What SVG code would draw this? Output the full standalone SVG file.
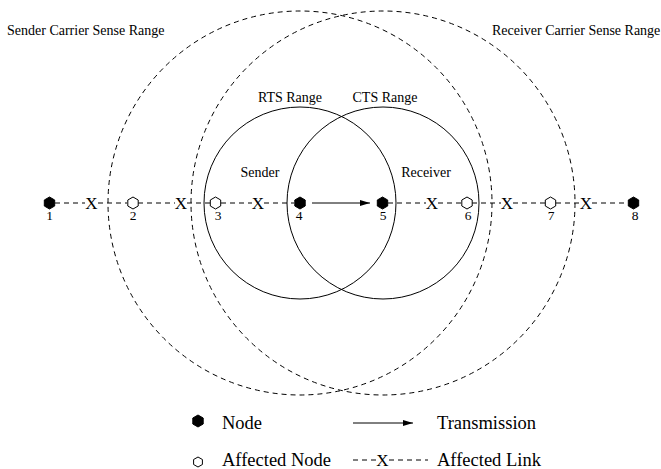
<svg xmlns="http://www.w3.org/2000/svg" width="661" height="469" viewBox="0 0 661 469">
<style>
  .t { font-family: "Liberation Serif", "Times New Roman", serif; fill: #000; }
  .lbl { font-size: 14px; }
  .num { font-size: 13.5px; text-anchor: middle; }
  .x { font-size: 17px; text-anchor: middle; }
  .leg { font-size: 18.5px; }
  .range { fill: none; stroke: #000; stroke-width: 1; }
  .cs { fill: none; stroke: #000; stroke-width: 1; stroke-dasharray: 5 4; }
  .link { fill: none; stroke: #000; stroke-width: 1; stroke-dasharray: 5 4; }
  .solid { fill: none; stroke: #000; stroke-width: 1; }
  .node { fill: #000; stroke: #000; stroke-width: 1; }
  .anode { fill: #fff; stroke: #000; stroke-width: 1; }
</style>
<defs>
  <polygon id="hex" points="0,-6 5.2,-3 5.2,3 0,6 -5.2,3 -5.2,-3"/>
  <polygon id="hexs" points="0,-5 4.4,-2.5 4.4,2.5 0,5 -4.4,2.5 -4.4,-2.5"/>
  <marker id="arr" viewBox="0 0 10 6" refX="10" refY="3" markerWidth="10" markerHeight="6" markerUnits="userSpaceOnUse" orient="auto">
    <polygon points="0,0 10,3 0,6" fill="#000"/>
  </marker>
</defs>
<rect width="661" height="469" fill="#fff"/>

<g id="ranges">
  <circle id="sender-cs" class="cs" cx="300" cy="203" r="192"/>
  <circle id="receiver-cs" class="cs" cx="383" cy="203" r="192"/>
  <circle id="rts" class="range" cx="300" cy="203" r="96"/>
  <circle id="cts" class="range" cx="383" cy="203" r="96"/>
</g>

<g id="range-labels">
  <text class="t lbl" x="7" y="35">Sender Carrier Sense Range</text>
  <text class="t lbl" x="492" y="35">Receiver Carrier Sense Range</text>
  <text class="t lbl" x="290" y="102" text-anchor="middle">RTS Range</text>
  <text class="t lbl" x="385" y="102" text-anchor="middle">CTS Range</text>
  <text class="t lbl" x="260" y="177" text-anchor="middle">Sender</text>
  <text class="t lbl" x="426" y="177" text-anchor="middle">Receiver</text>
</g>

<g id="connectors">
  <path class="link" d="M55,203H85 M98,203H127 M138,203H175 M187,203H210 M221,203H252 M264,203H294 M388,203H426 M438,203H462 M472,203H501 M513,203H545 M556,203H580 M592,203H628"/>
  <text class="t x" x="91.5" y="209">X</text>
  <text class="t x" x="181" y="209">X</text>
  <text class="t x" x="258" y="209">X</text>
  <text class="t x" x="432" y="209">X</text>
  <text class="t x" x="507" y="209">X</text>
  <text class="t x" x="586" y="209">X</text>
  <line class="solid" x1="312" y1="203" x2="370" y2="203" marker-end="url(#arr)"/>
</g>

<g id="node1"><use href="#hex" class="node" x="49.5" y="203"/><text class="t num" x="49.5" y="220">1</text></g>
<g id="node2"><use href="#hex" class="anode" x="133" y="203"/><text class="t num" x="133" y="220">2</text></g>
<g id="node3"><use href="#hex" class="anode" x="215.5" y="203"/><text class="t num" x="218" y="220">3</text></g>
<g id="node4"><use href="#hex" class="node" x="300" y="203"/><text class="t num" x="299" y="220">4</text></g>
<g id="node5"><use href="#hex" class="node" x="382.5" y="203"/><text class="t num" x="383" y="220">5</text></g>
<g id="node6"><use href="#hex" class="anode" x="467" y="203"/><text class="t num" x="468" y="220">6</text></g>
<g id="node7"><use href="#hex" class="anode" x="550.5" y="203"/><text class="t num" x="551" y="220">7</text></g>
<g id="node8"><use href="#hex" class="node" x="633.5" y="203"/><text class="t num" x="635" y="220">8</text></g>

<g id="legend">
  <use href="#hex" class="node" x="198" y="421"/>
  <text class="t leg" x="222" y="429">Node</text>
  <line class="solid" x1="353" y1="423" x2="413" y2="423" marker-end="url(#arr)"/>
  <text class="t leg" x="437" y="429">Transmission</text>
  <use href="#hexs" class="anode" x="198" y="462"/>
  <text class="t leg" x="222" y="466">Affected Node</text>
  <path class="link" d="M353,460H376 M389,460H428"/>
  <text class="t x" x="382.5" y="466">X</text>
  <text class="t leg" x="437" y="466">Affected Link</text>
</g>
</svg>
